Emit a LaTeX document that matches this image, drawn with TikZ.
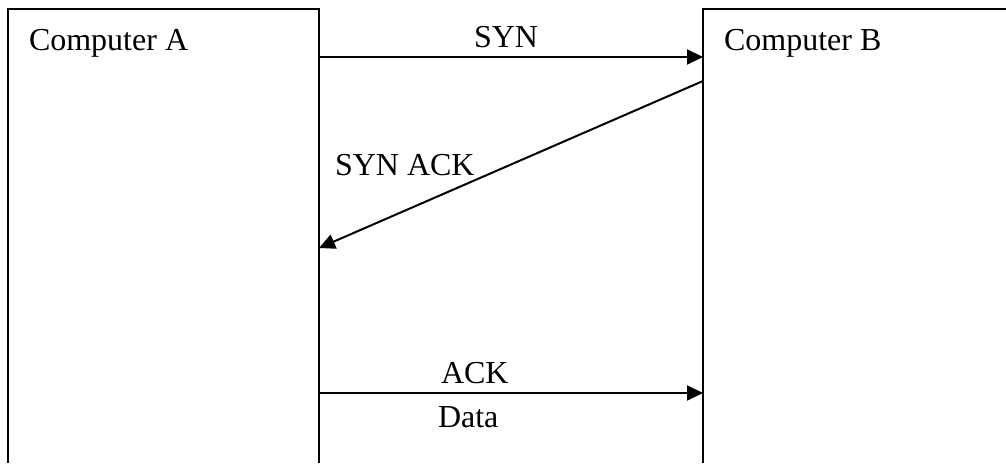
\documentclass[tikz,border=0pt]{standalone}
\usepackage{fontspec}
\setmainfont{Liberation Serif}
\usetikzlibrary{arrows.meta}
\tikzset{
  lbl/.style={inner sep=0pt, anchor=base west, font=\fontsize{32}{38}\selectfont},
  msg/.style={-{Triangle[length=16pt,width=15pt]}}
}
\begin{document}
\begin{tikzpicture}[x=1pt,y=-1pt,line width=2pt]
  \useasboundingbox (0,0) rectangle (1006,463);

  % the two computers
  \draw (8,463) -- (8,9) -- (319,9) -- (319,463);
  \draw (703,463) -- (703,9) -- (1006,9);

  \node[lbl] (compA) at (28,50) {Computer A};
  \node[lbl] (compB) at (723,50) {Computer B};

  % ends of the messages
  \coordinate (synA) at (319,57);
  \coordinate (synB) at (703,57);
  \coordinate (sackB) at (703,81);
  \coordinate (sackA) at (319,248);
  \coordinate (ackA) at (319,393);
  \coordinate (ackB) at (703,393);

  \draw[msg] (synA) -- (synB);
  \draw[msg] (sackB) -- (sackA);
  \draw[msg] (ackA) -- (ackB);

  \node[lbl] (syn) at (473,47) {SYN};
  \node[lbl] (synack) at (334,175) {SYN ACK};
  \node[lbl] (ack) at (440,383) {ACK};
  \node[lbl] (data) at (437,427) {Data};
\end{tikzpicture}
\end{document}
